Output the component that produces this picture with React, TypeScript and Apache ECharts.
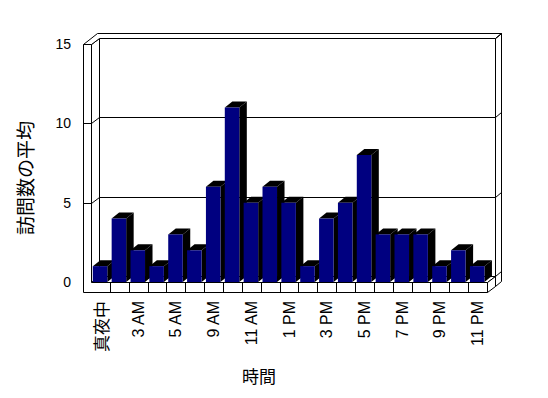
import React, { useEffect, useRef } from "react";
import * as echarts from "echarts";

const hours: string[] = [
  "真夜中", "1 AM", "3 AM", "4 AM", "5 AM", "8 AM", "9 AM", "10 AM", "11 AM", "12 PM",
  "1 PM", "2 PM", "3 PM", "4 PM", "5 PM", "6 PM", "7 PM", "8 PM", "9 PM", "10 PM", "11 PM",
];
const visits: number[] = [1, 4, 2, 1, 3, 2, 6, 11, 5, 6, 5, 1, 4, 5, 8, 3, 3, 3, 1, 2, 1];
const yTicks: number[] = [0, 5, 10, 15];
const xTitle = "時間";
const yTitle = "訪問数の平均";

const DX = 7.5, DY = -6, TX = 6, TY = -5, WALL = 8, FLOOR = 9.5;

export default function App() {
  const ref = useRef<HTMLDivElement>(null);
  useEffect(() => {
    if (!ref.current) return;
    const chart = echarts.init(ref.current, null, { renderer: "svg" });
    const c = (v: number) => Math.round(v) + 0.5;
    const st = { fill: "#fff", stroke: "#000", lineWidth: 1 };
    const poly = (pts: number[][]) => ({
      type: "polygon",
      shape: { points: pts.map(([x, y]) => [c(x), c(y)]) },
      style: st,
    });
    const line = (x1: number, y1: number, x2: number, y2: number) => ({
      type: "line",
      shape: { x1: c(x1), y1: c(y1), x2: c(x2), y2: c(y2) },
      style: { stroke: "#000", lineWidth: 1 },
    });

    const option: any = {
      animation: false,
      backgroundColor: "#fff",
      grid: { left: 91, right: 61, top: 44, bottom: 116 },
      xAxis: {
        type: "category",
        data: hours,
        axisLine: { show: false },
        axisTick: { show: false },
        axisLabel: {
          interval: 1,
          rotate: 90,
          margin: 19,
          fontSize: 16,
          color: "#000",
          fontFamily: "Liberation Sans",
          formatter: (v: string) => (/[^\x00-\x7f]/.test(v) ? `{cjk|${v}}` : v),
          rich: { cjk: { fontSize: 17, fontFamily: "Noto Sans CJK JP", color: "#000" } },
        },
        name: xTitle,
        nameLocation: "middle",
        nameGap: 85,
        nameTextStyle: {
          fontSize: 17,
          fontFamily: "Noto Sans CJK JP",
          color: "#000",
          padding: [0, 60, 0, 0],
        },
      },
      yAxis: {
        type: "value",
        min: 0,
        max: 15,
        interval: 5,
        axisLine: { show: false },
        axisTick: { show: false },
        splitLine: { show: false },
        axisLabel: { fontSize: 14, margin: 20, color: "#000", fontFamily: "Liberation Sans" },
        name: yTitle,
        nameLocation: "middle",
        nameGap: 57,
        nameTextStyle: {
          fontSize: 19,
          fontFamily: "Noto Sans CJK JP",
          color: "#000",
          padding: [0, 30, 0, 0],
        },
      },
      series: [
        {
          type: "custom",
          z: 1,
          silent: true,
          data: [[0, 0]],
          encode: { x: 0, y: 1 },
          renderItem: (params: any, api: any) => {
            const cs = params.coordSys;
            const L = cs.x, R = cs.x + cs.width, T0 = cs.y, B = cs.y + cs.height;
            const bw = cs.width / hours.length;
            const children: any[] = [
              poly([[L + DX, T0 + DY], [R + DX, T0 + DY], [R + DX, B + DY], [L + DX, B + DY]]),
              poly([[R + DX, T0 + DY], [R + DX + TX, T0 + DY + TY], [R + DX + TX, B + FLOOR + DY + TY], [R + DX, B + FLOOR + DY]]),
              poly([[L, T0], [L + DX, T0 + DY], [L + DX, B + DY], [L, B]]),
              poly([[L, B], [R, B], [R + DX, B + DY], [L + DX, B + DY]]),
              poly([[R, B], [R + DX, B + DY], [R + DX, B + FLOOR + DY], [R, B + FLOOR]]),
              poly([[L - WALL, T0], [L, T0], [L + DX, T0 + DY], [R + DX, T0 + DY], [R + DX + TX, T0 + DY + TY], [L - WALL + DX + TX, T0 + DY + TY]]),
              poly([[L - WALL, T0], [L, T0], [L, B], [R, B], [R, B + FLOOR], [L - WALL, B + FLOOR]]),
            ];
            yTicks.forEach((v) => {
              const y = api.coord([0, v])[1];
              if (v > 0 && v < 15) {
                children.push(line(L - WALL, y, L, y));
                children.push(line(L, y, L + DX, y + DY));
              }
              if (v < 15) children.push(line(L + DX, y + DY, R + DX, y + DY));
              children.push(line(R + DX, y + DY, R + DX + TX, y + DY + TY));
            });
            for (let k = 1; k < hours.length; k++) {
              const x = L + k * bw;
              children.push(line(x, B, x, B + FLOOR));
            }
            return { type: "group", children };
          },
        },
        {
          type: "custom",
          z: 2,
          data: visits.map((v, i) => [i, v]),
          encode: { x: 0, y: 1 },
          renderItem: (params: any, api: any) => {
            const i = api.value(0);
            const v = api.value(1);
            const base = api.coord([i, 0]);
            const top = api.coord([i, v]);
            const bw = api.size([1, 0])[0];
            const x0 = base[0] - bw / 2 + bw * 0.095;
            const w = bw * 0.77;
            const yb = base[1], yt = top[1];
            return {
              type: "group",
              children: [
                {
                  type: "polygon",
                  shape: { points: [[x0 + w, yt], [x0 + w + DX, yt + DY], [x0 + w + DX, yb + DY], [x0 + w, yb]] },
                  style: { fill: "#000" },
                },
                {
                  type: "polygon",
                  shape: { points: [[x0, yt], [x0 + w, yt], [x0 + w + DX, yt + DY], [x0 + DX, yt + DY]] },
                  style: { fill: "#000" },
                },
                {
                  type: "rect",
                  shape: { x: x0, y: yt, width: w, height: yb - yt },
                  style: { fill: "#000080" },
                },
              ],
            };
          },
        },
      ],
    };
    chart.setOption(option);
    return () => chart.dispose();
  }, []);
  return (
    <div
      ref={ref}
      style={{ position: "fixed", left: 0, top: 0, width: 548, height: 398 }}
    />
  );
}
